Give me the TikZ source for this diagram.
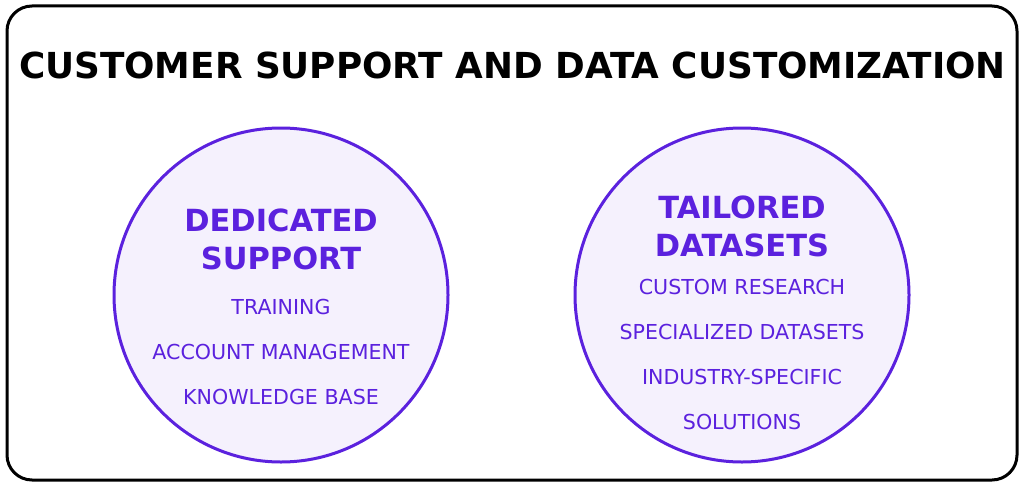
\documentclass[tikz,border=0pt]{standalone}
\usepackage{fontspec}
\setmainfont{DejaVu Sans}
\usepackage{xcolor}
\usetikzlibrary{positioning,calc}
\definecolor{violet}{HTML}{5B21DE}
\definecolor{lavender}{HTML}{F5F1FD}

\begin{document}
\begin{tikzpicture}[
    x=1pt, y=-1pt,
    hub/.style={circle, draw=violet, line width=3pt, fill=lavender, minimum size=334pt, inner sep=0pt},
    heading/.style={text=violet, font=\fontsize{30.5}{38}\selectfont\bfseries, align=center, inner sep=0pt},
    item/.style={text=violet, font=\fontsize{20.6}{24}\selectfont, inner sep=0pt}
]
\useasboundingbox (0,0) rectangle (1024,487);
\draw[line width=3pt, rounded corners=25pt] (7,6) rectangle (1017,480);
\node[font=\fontsize{35.8}{43}\selectfont\bfseries, inner sep=0pt] (title) at (512.5,65) {CUSTOMER SUPPORT AND DATA CUSTOMIZATION};

% left circle
\node[hub] (support) at (281,295) {};
\node[heading] (supporthead) at (281,239) {DEDICATED\\SUPPORT};
\node[item] (training) at (281,307) {TRAINING};
\node[item] (account) at (281,352) {ACCOUNT MANAGEMENT};
\node[item] (knowledge) at (281,397) {KNOWLEDGE BASE};

% right circle
\node[hub] (datasets) at (742,295) {};
\node[heading] (datasetshead) at (742,226) {TAILORED\\DATASETS};
\node[item] (research) at (742,287) {CUSTOM RESEARCH};
\node[item] (specialized) at (742,332) {SPECIALIZED DATASETS};
\node[item] (industry) at (742,377) {INDUSTRY-SPECIFIC};
\node[item] (solutions) at (742,422) {SOLUTIONS};
\end{tikzpicture}
\end{document}
